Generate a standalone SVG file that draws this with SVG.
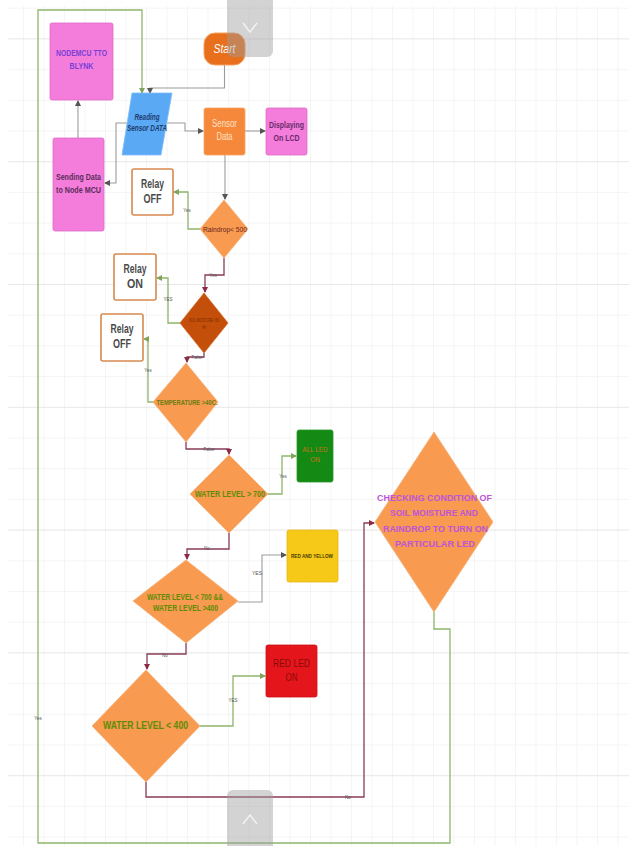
<svg xmlns="http://www.w3.org/2000/svg" width="629" height="846" viewBox="0 0 629 846">
<style>
text{font-family:"Liberation Sans",Arial,sans-serif;text-anchor:middle}
.lbl{font-size:4.5px;fill:#555}
.g{fill:none;stroke:#8fb56c;stroke-width:1.3}
.m{fill:none;stroke:#8a3b58;stroke-width:1.3}
.y{fill:none;stroke:#9c9c9c;stroke-width:1.1}
.relay{fill:#fff;stroke:#d8894e;stroke-width:1.6}
.rtx{font-size:12px;font-weight:bold;fill:#4a4a4a}
.dia{fill:#f89a50;stroke:#f6b27a;stroke-width:0.8}
.pink{fill:#f47ddc;stroke:#e06ac8;stroke-width:0.8}
.wl{font-weight:bold;fill:#5e8c05}
</style>
<defs>
<pattern id="grid" patternUnits="userSpaceOnUse" x="2.5" y="7.7" width="20.5" height="30.7">
<path d="M0 0 V30.7 M0 0 H20.5" fill="none" stroke="#ececec" stroke-width="1"/>
</pattern>
<pattern id="gridM" patternUnits="userSpaceOnUse" x="2.5" y="38.4" width="82" height="122.8">
<path d="M0 0 H82" fill="none" stroke="#dcdcdc" stroke-width="1.2"/>
</pattern>
<marker id="aG" markerWidth="6" markerHeight="6" refX="5" refY="3" orient="auto" markerUnits="userSpaceOnUse"><path d="M0 0 L6 3 L0 6 Z" fill="#7fa65c"/></marker>
<marker id="aM" markerWidth="6" markerHeight="6" refX="5" refY="3" orient="auto" markerUnits="userSpaceOnUse"><path d="M0 0 L6 3 L0 6 Z" fill="#8a2b48"/></marker>
<marker id="aY" markerWidth="6" markerHeight="6" refX="5" refY="3" orient="auto" markerUnits="userSpaceOnUse"><path d="M0 0 L6 3 L0 6 Z" fill="#555"/></marker>
</defs>
<rect width="629" height="846" fill="#fff"/>
<rect x="8" y="6" width="621" height="840" fill="url(#grid)"/>
<rect x="8" y="6" width="621" height="840" fill="url(#gridM)"/>

<g id="connectors">
<path class="y" d="M224.5 65 V88 H150 V93" marker-end="url(#aY)"/>
<path class="y" d="M127 123 H116 V183 H105" marker-end="url(#aY)"/>
<path class="y" d="M167 123 H185 V131 H203" marker-end="url(#aY)"/>
<path class="y" d="M245 131 H265" marker-end="url(#aY)"/>
<path class="y" d="M225 155 V199" marker-end="url(#aY)"/>
<path class="y" d="M78 138 V101" marker-end="url(#aY)"/>
<path class="y" d="M238 602 H262 V555 H286" marker-end="url(#aY)"/>

<path class="g" d="M200 229 H188 V192 H174" marker-end="url(#aG)"/>
<path class="g" d="M181 323 H168 V278 H157" marker-end="url(#aG)"/>
<path class="g" d="M154 402 H148 V339 H144" marker-end="url(#aG)"/>
<path class="g" d="M268 494 H282 V456 H296" marker-end="url(#aG)"/>
<path class="g" d="M200 726 H233 V676 H265" marker-end="url(#aG)"/>
<path class="g" d="M434 612 V629 H450 V843 H38 V10 H142 V93" marker-end="url(#aG)"/>

<path class="m" d="M224 258 V275 H205 V292" marker-end="url(#aM)"/>
<path class="m" d="M204 353 V357 H187 V362" marker-end="url(#aM)"/>
<path class="m" d="M186 442 V449 H229 V454" marker-end="url(#aM)"/>
<path class="m" d="M229 533 V549 H187 V559" marker-end="url(#aM)"/>
<path class="m" d="M186 643 V654 H147 V669" marker-end="url(#aM)"/>
<path class="m" d="M146 782 V797 H364 V523 H374" marker-end="url(#aM)"/>

<text class="lbl" x="187" y="212">Yes</text>
<text class="lbl" x="213" y="277">Yes</text>
<text class="lbl" x="168" y="301">YES</text>
<text class="lbl" x="148" y="372">Yes</text>
<text class="lbl" x="197" y="359">False</text>
<text class="lbl" x="209" y="451">False</text>
<text class="lbl" x="283" y="478">Yes</text>
<text class="lbl" x="207" y="550">No</text>
<text class="lbl" x="257" y="575" style="font-size:5px">YES</text>
<text class="lbl" x="165" y="657">No</text>
<text class="lbl" x="233" y="702">YES</text>
<text class="lbl" x="348" y="799">No</text>
<text class="lbl" x="38" y="720">Yes</text>
</g>

<g id="start">
<rect x="204" y="33" width="41" height="32" rx="11" fill="#e8701c" stroke="#f4a060" stroke-width="1"/>
<text x="224.5" y="53" textLength="22" lengthAdjust="spacingAndGlyphs" style="font-size:13px;font-style:italic;fill:#fff">Start</text>
</g>

<g id="nodemcu">
<rect class="pink" x="50" y="23" width="63" height="77" rx="2"/>
<text x="81.5" y="56" textLength="51" lengthAdjust="spacingAndGlyphs" style="font-size:8.5px;font-weight:bold;fill:#7a3fd6">NODEMCU TTO</text>
<text x="81.5" y="69" textLength="24" lengthAdjust="spacingAndGlyphs" style="font-size:8.5px;font-weight:bold;fill:#7a3fd6">BLYNK</text>
</g>

<g id="sending">
<rect class="pink" x="53" y="138" width="51" height="93" rx="2"/>
<text x="78.5" y="180" textLength="45" lengthAdjust="spacingAndGlyphs" style="font-size:8.5px;font-weight:bold;fill:#5a2d5a">Sending Data</text>
<text x="78.5" y="193" textLength="45" lengthAdjust="spacingAndGlyphs" style="font-size:8.5px;font-weight:bold;fill:#5a2d5a">to Node MCU</text>
</g>

<g id="reading">
<path d="M132 93 H172 L161 155 H122 Z" fill="#5aa9f5" stroke="#7cbcf7" stroke-width="0.8"/>
<text x="147" y="120" textLength="25" lengthAdjust="spacingAndGlyphs" style="font-size:8.5px;font-weight:bold;font-style:italic;fill:#1f3b6e">Reading</text>
<text x="147" y="131" textLength="40" lengthAdjust="spacingAndGlyphs" style="font-size:8.5px;font-weight:bold;font-style:italic;fill:#1f3b6e">Sensor DATA</text>
</g>

<g id="sensordata">
<rect x="204" y="108" width="41" height="47" rx="2" fill="#f5883a" stroke="#f7a466" stroke-width="0.8"/>
<text x="224.5" y="127" textLength="25" lengthAdjust="spacingAndGlyphs" style="font-size:10px;fill:#ffe3c8">Sensor</text>
<text x="224.5" y="140" textLength="16" lengthAdjust="spacingAndGlyphs" style="font-size:10px;fill:#ffe3c8">Data</text>
</g>

<g id="lcd">
<rect class="pink" x="266" y="108" width="41" height="47" rx="2"/>
<text x="286.5" y="128" textLength="35" lengthAdjust="spacingAndGlyphs" style="font-size:9px;font-weight:bold;fill:#6a2a6a">Displaying</text>
<text x="286.5" y="141" textLength="26" lengthAdjust="spacingAndGlyphs" style="font-size:9px;font-weight:bold;fill:#6a2a6a">On LCD</text>
</g>

<g id="relayoff1">
<rect class="relay" x="132" y="169" width="41" height="46" rx="2"/>
<text class="rtx" x="152.5" y="188" textLength="23" lengthAdjust="spacingAndGlyphs">Relay</text>
<text class="rtx" x="152.5" y="203" textLength="18" lengthAdjust="spacingAndGlyphs">OFF</text>
</g>

<g id="raindrop">
<path class="dia" d="M224 200 L248 229 L224 258 L200 229 Z"/>
<text x="225" y="232" textLength="44" lengthAdjust="spacingAndGlyphs" style="font-size:8px;fill:#6b1f1f">Raindrop&lt; 500</text>
</g>

<g id="relayon">
<rect class="relay" x="114" y="254" width="42" height="46" rx="2"/>
<text class="rtx" x="135" y="273" textLength="23" lengthAdjust="spacingAndGlyphs">Relay</text>
<text class="rtx" x="135" y="288" textLength="16" lengthAdjust="spacingAndGlyphs">ON</text>
</g>

<g id="soil">
<path d="M204 293 L228 323 L204 353 L180 323 Z" fill="#c44f0a" stroke="#d86a28" stroke-width="0.8"/>
<text x="204" y="322" textLength="30" lengthAdjust="spacingAndGlyphs" style="font-size:4.5px;fill:#7a2a00">SOIL MOISTURE &gt;50</text>
<text x="204" y="329" style="font-size:4.5px;fill:#7a2a00">%</text>
</g>

<g id="relayoff2">
<rect class="relay" x="101" y="314" width="42" height="47" rx="2"/>
<text class="rtx" x="122" y="333" textLength="23" lengthAdjust="spacingAndGlyphs">Relay</text>
<text class="rtx" x="122" y="348" textLength="18" lengthAdjust="spacingAndGlyphs">OFF</text>
</g>

<g id="temperature">
<path class="dia" d="M186 363 L218 402 L186 442 L153 402 Z"/>
<text x="187" y="405" textLength="61" lengthAdjust="spacingAndGlyphs" style="font-size:7px;font-weight:bold;fill:#6b7d10">TEMPERATURE &gt;40C.</text>
</g>

<g id="wl700">
<path class="dia" d="M229 455 L268 494 L229 533 L190 494 Z"/>
<text class="wl" x="230" y="497" textLength="70" lengthAdjust="spacingAndGlyphs" style="font-size:9px">WATER LEVEL &gt;  700</text>
</g>

<g id="allled">
<rect x="297" y="430" width="36" height="52" rx="2" fill="#148a14" stroke="#2a9a2a" stroke-width="0.8"/>
<text x="315" y="452" textLength="25" lengthAdjust="spacingAndGlyphs" style="font-size:6.5px;fill:#c8701a">ALL LED</text>
<text x="315" y="462" style="font-size:6.5px;fill:#c8701a">ON</text>
</g>

<g id="wlmid">
<path class="dia" d="M186 560 L238 601 L186 643 L133 601 Z"/>
<text class="wl" x="185" y="600" textLength="76" lengthAdjust="spacingAndGlyphs" style="font-size:9px">WATER LEVEL &lt; 700 &amp;&amp;</text>
<text class="wl" x="185.5" y="611" textLength="65" lengthAdjust="spacingAndGlyphs" style="font-size:9px">WATER LEVEL &gt;400</text>
</g>

<g id="redyellow">
<rect x="287" y="530" width="51" height="52" rx="2" fill="#f6c919" stroke="#e8b810" stroke-width="0.8"/>
<text x="312" y="558" textLength="42" lengthAdjust="spacingAndGlyphs" style="font-size:6px;font-weight:bold;fill:#4a3a00">RED AND YELLOW</text>
</g>

<g id="wl400">
<path class="dia" d="M146 670 L200 726 L146 782 L92 726 Z"/>
<text class="wl" x="145.5" y="729" textLength="85" lengthAdjust="spacingAndGlyphs" style="font-size:10.5px">WATER LEVEL &lt; 400</text>
</g>

<g id="redled">
<rect x="266" y="645" width="51" height="52" rx="2" fill="#e5161b" stroke="#c81015" stroke-width="0.8"/>
<text x="291.5" y="667" textLength="37" lengthAdjust="spacingAndGlyphs" style="font-size:11px;fill:#8a0a0a">RED LED</text>
<text x="291.5" y="681" textLength="12" lengthAdjust="spacingAndGlyphs" style="font-size:11px;fill:#8a0a0a">ON</text>
</g>

<g id="condition">
<path class="dia" d="M434 432 L493 522 L434 612 L375 522 Z"/>
<g style="font-size:9.5px;font-weight:bold;fill:#bd55d8">
<text x="434.5" y="501" textLength="115" lengthAdjust="spacingAndGlyphs">CHECKING CONDITION  OF</text>
<text x="434" y="516" textLength="88" lengthAdjust="spacingAndGlyphs">SOIL MOISTURE AND</text>
<text x="435.5" y="532" textLength="105" lengthAdjust="spacingAndGlyphs">RAINDROP TO TURN  ON</text>
<text x="435" y="547" textLength="80" lengthAdjust="spacingAndGlyphs">PARTICULAR LED</text>
</g>
</g>

<g id="scroll-top">
<rect x="227" y="-6" width="46" height="63" rx="6" fill="#9e9e9e" fill-opacity="0.45"/>
<path d="M243 23 L250 32 L257 23" fill="none" stroke="#f2f2f2" stroke-width="1.5"/>
</g>
<g id="scroll-bottom">
<rect x="227" y="790" width="46" height="62" rx="6" fill="#9e9e9e" fill-opacity="0.45"/>
<path d="M243 824 L250 815 L257 824" fill="none" stroke="#f2f2f2" stroke-width="1.5"/>
</g>
</svg>
